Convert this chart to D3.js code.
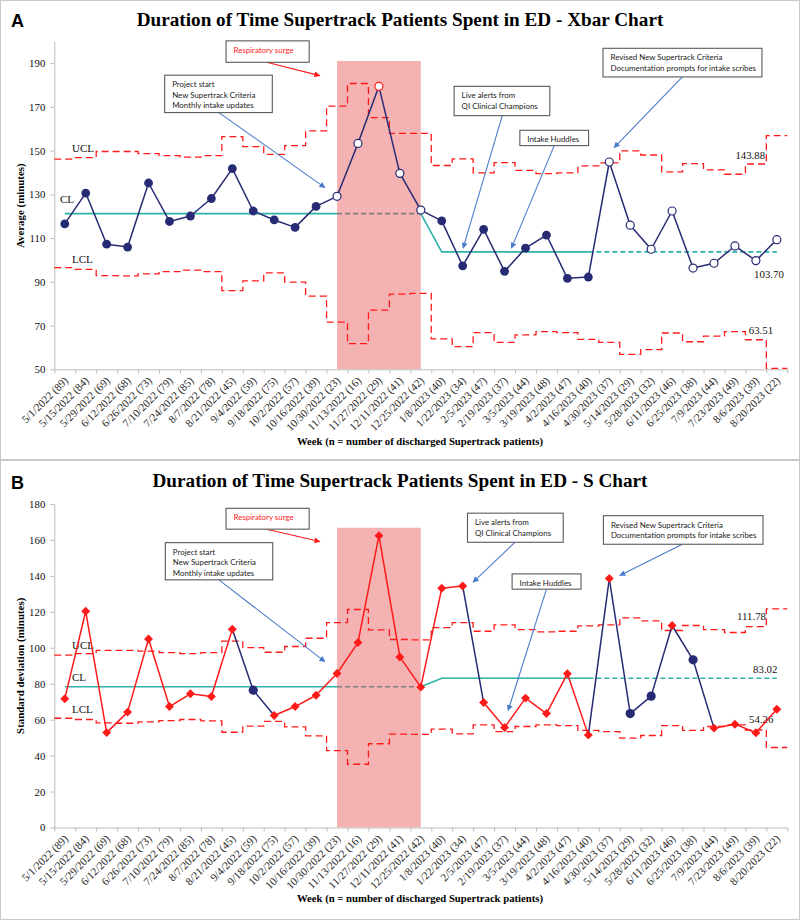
<!DOCTYPE html>
<html>
<head>
<meta charset="utf-8">
<script src="https://cdn.jsdelivr.net/npm/d3@7"></script>
<style>
body { margin: 0; background: #fff; }
svg { display: block; }
</style>
</head>
<body>
<div class="chart"></div>
<script>
// DATA ------------------------------------
const weeks = ['5/1/2022 (89)', '5/15/2022 (84)', '5/29/2022 (69)', '6/12/2022 (68)', '6/26/2022 (73)',
    '7/10/2022 (79)', '7/24/2022 (85)', '8/7/2022 (78)', '8/21/2022 (45)', '9/4/2022 (59)',
    '9/18/2022 (75)', '10/2/2022 (57)', '10/16/2022 (39)', '10/30/2022 (23)', '11/13/2022 (16)',
    '11/27/2022 (29)', '12/11/2022 (41)', '12/25/2022 (42)', '1/8/2023 (40)', '1/22/2023 (34)',
    '2/5/2023 (47)', '2/19/2023 (37)', '3/5/2023 (44)', '3/19/2023 (48)', '4/2/2023 (47)',
    '4/16/2023 (40)', '4/30/2023 (37)', '5/14/2023 (29)', '5/28/2023 (32)', '6/11/2023 (46)',
    '6/25/2023 (38)', '7/9/2023 (44)', '7/23/2023 (49)', '8/6/2023 (39)', '8/20/2023 (22)']

const xbarMean = [116.5, 130.6, 107.2, 105.9, 135.2, 117.6, 120.1, 128.1, 141.8, 122.4,
    118.3, 114.9, 124.5, 129.1, 153.3, 179.4, 139.6, 122.8, 117.9, 97.3,
    114.0, 94.8, 105.4, 111.4, 91.6, 92.2, 144.8, 115.9, 104.9, 122.4,
    96.3, 98.5, 106.4, 99.7, 109.3]
const xbarUcl = [146.1, 146.8, 149.6, 149.6, 148.6, 147.7, 147.0, 147.7, 156.4, 151.8,
    148.3, 152.3, 159.0, 170.4, 180.7, 165.1, 157.9, 157.9, 143.2, 146.2,
    139.8, 144.5, 141.0, 139.5, 139.8, 143.0, 144.4, 149.9, 148.0, 140.3,
    144.1, 141.2, 139.2, 143.88, 156.9]
const xbarLcl = [96.5, 95.7, 92.8, 92.7, 93.6, 94.7, 95.4, 94.7, 86.0, 90.4,
    94.1, 89.9, 83.5, 71.6, 61.7, 77.1, 84.4, 84.7, 63.9, 60.4,
    66.8, 62.3, 65.7, 67.2, 66.8, 63.7, 62.3, 56.8, 59.0, 66.6,
    62.6, 65.2, 67.2, 63.51, 50.4]
const xbarCl = [121.2, 103.70]
const xbarOpen = [13, 14, 15, 16, 17, 26, 27, 28, 29, 30, 31, 32, 33, 34]
const xbarRed = [15]

const sDev = [71.6, 120.3, 52.8, 64.2, 104.9, 67.3, 74.4, 72.9, 110.3, 76.4,
    62.3, 67.3, 73.6, 85.7, 102.9, 162.4, 94.9, 78.1, 133.1, 134.4,
    69.5, 55.6, 72.0, 63.4, 85.6, 51.4, 138.5, 63.4, 73.1, 112.4,
    93.3, 55.3, 57.5, 52.7, 65.8]
const sUcl = [95.9, 96.8, 98.5, 98.6, 98.1, 97.3, 96.8, 97.3, 103.7, 100.1,
    97.5, 100.7, 105.3, 114.0, 121.3, 110.0, 104.6, 104.4, 111.2, 114.0,
    109.2, 112.7, 110.1, 108.8, 109.2, 112.2, 112.7, 116.6, 115.0, 109.6,
    112.4, 110.1, 108.5, 111.78, 121.6]
const sLcl = [60.8, 60.1, 58.2, 58.0, 58.8, 59.5, 60.1, 59.3, 53.0, 56.4,
    59.0, 56.0, 51.0, 42.8, 35.2, 46.6, 51.9, 51.8, 54.7, 52.1,
    57.1, 53.4, 56.2, 57.1, 56.7, 54.0, 53.4, 49.7, 51.2, 56.7,
    54.0, 56.2, 57.1, 54.26, 44.5]
const sCl = [78.3, 83.02]
const sNavyPoints = [9, 27, 28, 30]
const sNavySegments = [9, 10, 20, 26, 27, 28, 29, 30, 31]   // index of the point a segment ends on

const xbarTicks = [50, 70, 90, 110, 130, 150, 170, 190]
const sTicks = [0, 20, 40, 60, 80, 100, 120, 140, 160, 180]

// phases (point indexes)
const surgeStart = 13, surgeEnd = 17, phase2Start = 18, phase2Frozen = 25

// CHART INIT ------------------------------
const NAVY = '#262b73', RED = '#ff1a1a', TEAL = '#2fb2a8', BLUE = '#4a7cc9'
const serif = '"Liberation Serif", "Times New Roman", serif'
const note = 'Lato, "Open Sans", sans-serif'

const svg = d3.select('.chart')
    .append('svg')
    .attr('width', 800)
    .attr('height', 920)

const defs = svg.append('defs')
;[['arrBlue', BLUE], ['arrRed', RED]].forEach(([id, c]) => {
    defs.append('marker')
        .attr('id', id)
        .attr('viewBox', '0 0 10 10')
        .attr('refX', 9).attr('refY', 5)
        .attr('markerWidth', 7).attr('markerHeight', 6)
        .attr('markerUnits', 'userSpaceOnUse')
        .attr('orient', 'auto')
        .append('path')
        .attr('d', 'M0,0 L10,5 L0,10 z')
        .attr('fill', c)
})

const x = d3.scaleBand().domain(weeks).range([54.3, 787.3])
const xe = d3.scaleLinear().domain([0, weeks.length]).range([54.3, 787.3])
const xc = i => xe(i + 0.5)

const panels = [
    {
        top: 0, h: 460, letter: 'A', letterY: 26.7, titleY: 25.7, axisTitleY: 445,
        title: 'Duration of Time Supertrack Patients Spent in ED - Xbar Chart',
        yLabel: 'Average (minutes)', yLabelY: 205.7,
        domain: [50, 200], range: [369.3, 41.3], ticks: xbarTicks, surgeTop: 191,
        values: xbarMean, ucl: xbarUcl, lcl: xbarLcl, cl: xbarCl,
        kind: 'xbar',
        limitText: [['UCL', 72, -6, 'ucl'], ['CL', 60, -10.5, 'cl'], ['LCL', 72, -6, 'lcl']],
        endText: { ucl: [-10, -4.7], cl: [8.7, 25.8], lcl: [3.4, -5.5] },
        notes: [
            { lines: ['Respiratory surge'], color: RED, box: [8.2, 200.2, 12.17, 190.4], arrow: [[10.14, 190.4], [12.68, 184.3]], marker: 'arrRed' },
            { lines: ['Project start', 'New Supertrack Criteria', 'Monthly intake updates'], box: [5.27, 184.5, 10.41, 167.4], arrow: [[7.86, 167.4], [12.92, 133.1]] },
            { lines: ['Live alerts from', 'QI Clinical Champions'], box: [19.09, 179.4, 23.66, 166.0], arrow: [[21.39, 166.0], [19.52, 105.4]] },
            { lines: ['Intake Huddles'], box: [22.23, 159.3, 25.51, 152.3], arrow: [[23.87, 152.3], [21.83, 105.4]] },
            { lines: ['Revised New Supertrack Criteria', 'Documentation prompts for intake scribes'], box: [26.2, 196.8, 33.79, 183.7], arrow: [[29.99, 183.7], [26.73, 151.4]] }
        ]
    },
    {
        top: 460, h: 460, letter: 'B', letterY: 29.3, titleY: 26.7, axisTitleY: 441.7,
        title: 'Duration of Time Supertrack Patients Spent in ED - S Chart',
        yLabel: 'Standard deviation (minutes)', yLabelY: 205.8,
        domain: [0, 180], range: [367.5, 44], ticks: sTicks, surgeTop: 166.8,
        values: sDev, ucl: sUcl, lcl: sLcl, cl: sCl,
        kind: 's',
        limitText: [['UCL', 72, -5, 'ucl'], ['CL', 72, -6, 'cl'], ['LCL', 72, -6, 'lcl']],
        endText: { ucl: [-8.3, -6.6], cl: [7.7, -5.6], lcl: [3.7, -6.7] },
        notes: [
            { lines: ['Respiratory surge'], color: RED, box: [8.2, 177.6, 12.17, 166.0], arrow: [[10.14, 166.0], [12.68, 159.1]], marker: 'arrRed' },
            { lines: ['Project start', 'New Supertrack Criteria', 'Monthly intake updates'], box: [5.3, 158.5, 10.43, 137.8], arrow: [[7.86, 137.8], [12.92, 92.3]] },
            { lines: ['Live alerts from', 'QI Clinical Champions'], box: [19.73, 174.9, 24.3, 158.7], arrow: [[21.99, 158.7], [20.0, 136.5]] },
            { lines: ['Intake Huddles'], box: [21.86, 141.1, 25.15, 132.6], arrow: [[23.5, 132.6], [21.67, 65.1]] },
            { lines: ['Revised New Supertrack Criteria', 'Documentation prompts for intake scribes'], box: [26.22, 173.5, 33.84, 157.6], arrow: [[29.99, 157.6], [27.0, 140.2]] }
        ]
    }
]

function drawPanel(p) {
    const g = svg.append('g').attr('transform', `translate(0, ${p.top})`)
    const y = d3.scaleLinear().domain(p.domain).range(p.range)
    const y0 = p.range[0]

    g.append('rect')
        .attr('x', 0.5).attr('y', 0.5)
        .attr('width', 799).attr('height', p.h - 1)
        .attr('fill', 'none').attr('stroke', '#c9c9c9')

    g.append('text')
        .attr('x', 11).attr('y', p.letterY)
        .attr('font-family', '"Liberation Sans", Arial, sans-serif')
        .attr('font-weight', 'bold').attr('font-size', 18)
        .text(p.letter)

    g.append('text')
        .attr('x', 400).attr('y', p.titleY)
        .attr('text-anchor', 'middle')
        .attr('font-family', serif).attr('font-weight', 'bold').attr('font-size', 19.2)
        .text(p.title)

    // surge shading
    g.append('rect')
        .attr('x', xc(surgeStart))
        .attr('y', y(p.surgeTop))
        .attr('width', xc(surgeEnd) - xc(surgeStart))
        .attr('height', y0 - y(p.surgeTop))
        .attr('fill', '#f5b2b2')

    // axes
    const yAxis = d3.axisLeft(y).tickValues(p.ticks).tickSize(4).tickSizeOuter(0).tickPadding(5)
    const ya = g.append('g').attr('transform', 'translate(54.3,0)').call(yAxis)
    ya.selectAll('text').attr('font-family', serif).attr('font-size', 10.8).attr('fill', '#111')

    const xAxis = d3.axisBottom(xe).tickValues(d3.range(weeks.length + 1)).tickSize(4).tickSizeOuter(0).tickFormat('')
    const xa = g.append('g').attr('transform', `translate(0,${y0})`).call(xAxis)
    ;[ya, xa].forEach(a => a.selectAll('path, line').attr('stroke', '#bdbdbd'))

    g.selectAll('.xlab')
        .data(weeks)
        .join('text')
        .attr('class', 'xlab')
        .attr('transform', d => `translate(${x(d) + x.bandwidth() / 2 + 4},${y0 + 12}) rotate(-45)`)
        .attr('text-anchor', 'end')
        .attr('font-family', serif).attr('font-size', 11).attr('fill', '#222')
        .text(d => d)

    g.append('text')
        .attr('x', 420).attr('y', p.axisTitleY)
        .attr('text-anchor', 'middle')
        .attr('font-family', serif).attr('font-weight', 'bold').attr('font-size', 10.7)
        .text('Week (n = number of discharged Supertrack patients)')

    g.append('text')
        .attr('transform', `translate(24,${p.yLabelY}) rotate(-90)`)
        .attr('text-anchor', 'middle')
        .attr('font-family', serif).attr('font-weight', 'bold').attr('font-size', 10.9)
        .text(p.yLabel)

    // control limits (step lines)
    const step = vals => d3.line()(vals.flatMap((v, i) => [[xe(i), y(v)], [xe(i + 1), y(v)]]))
    ;[p.ucl, p.lcl].forEach(vals => {
        g.append('path')
            .attr('d', step(vals))
            .attr('fill', 'none').attr('stroke', RED)
            .attr('stroke-width', 1.3).attr('stroke-dasharray', '7,4')
    })

    // centre line
    const line = d3.line().x(d => xc(d[0])).y(d => y(d[1]))
    const clParts = [
        [[[0, p.cl[0]], [surgeStart, p.cl[0]]], TEAL, null],
        [[[surgeStart, p.cl[0]], [surgeEnd, p.cl[0]]], '#7f7f7f', '5,3'],
        [[[surgeEnd, p.cl[0]], [phase2Start, p.cl[1]], [phase2Frozen, p.cl[1]]], TEAL, null],
        [[[phase2Frozen, p.cl[1]], [weeks.length - 1, p.cl[1]]], TEAL, '5,3']
    ]
    clParts.forEach(([pts, c, dash]) => {
        g.append('path')
            .attr('d', line(pts))
            .attr('fill', 'none').attr('stroke', c)
            .attr('stroke-width', 1.6)
            .attr('stroke-dasharray', dash)
    })

    // labels for limits
    const firstVal = { ucl: p.ucl[1], cl: p.cl[0], lcl: p.lcl[1] }
    p.limitText.forEach(([t, lx, dy, key]) => {
        g.append('text')
            .attr('x', lx).attr('y', y(firstVal[key]) + dy)
            .attr('font-family', serif).attr('font-size', 11).attr('fill', '#111')
            .text(t)
    })
    const last = weeks.length - 2
    const endVal = { ucl: p.ucl[last], cl: p.cl[1], lcl: p.lcl[last] }
    Object.entries(p.endText).forEach(([key, [dx, dy]]) => {
        g.append('text')
            .attr('x', xe(last) + dx).attr('y', y(endVal[key]) + dy)
            .attr('font-family', serif).attr('font-size', 10.8).attr('fill', '#111')
            .text(d3.format('.2f')(endVal[key]))
    })

    // data line
    const isS = p.kind === 's'
    const segColor = i => (!isS || sNavySegments.includes(i)) ? NAVY : RED
    d3.range(1, p.values.length).forEach(i => {
        g.append('line')
            .attr('x1', xc(i - 1)).attr('y1', y(p.values[i - 1]))
            .attr('x2', xc(i)).attr('y2', y(p.values[i]))
            .attr('stroke', segColor(i)).attr('stroke-width', 1.5)
    })

    // markers
    p.values.forEach((v, i) => {
        if (isS) {
            if (sNavyPoints.includes(i)) {
                g.append('circle').attr('cx', xc(i)).attr('cy', y(v)).attr('r', 4.6).attr('fill', NAVY)
            } else {
                g.append('path')
                    .attr('d', d3.symbol(d3.symbolSquare, 40)())
                    .attr('transform', `translate(${xc(i)},${y(v)}) rotate(45)`)
                    .attr('fill', RED)
            }
        } else if (xbarOpen.includes(i)) {
            g.append('circle').attr('cx', xc(i)).attr('cy', y(v)).attr('r', 4)
                .attr('fill', '#fff')
                .attr('stroke', xbarRed.includes(i) ? RED : NAVY).attr('stroke-width', 1.2)
        } else {
            g.append('circle').attr('cx', xc(i)).attr('cy', y(v)).attr('r', 4.4).attr('fill', NAVY)
        }
    })

    // annotations
    p.notes.forEach(n => {
        const [bx0, by0, bx1, by1] = n.box
        g.append('line')
            .attr('x1', xe(n.arrow[0][0])).attr('y1', y(n.arrow[0][1]))
            .attr('x2', xe(n.arrow[1][0])).attr('y2', y(n.arrow[1][1]))
            .attr('stroke', n.color || BLUE).attr('stroke-width', 1.1)
            .attr('marker-end', `url(#${n.marker || 'arrBlue'})`)
        g.append('rect')
            .attr('x', xe(bx0)).attr('y', y(by0))
            .attr('width', xe(bx1) - xe(bx0)).attr('height', y(by1) - y(by0))
            .attr('fill', '#fff').attr('stroke', '#5a5a5a').attr('stroke-width', 1.1)
        n.lines.forEach((t, k) => {
            g.append('text')
                .attr('x', xe(bx0) + 7.5).attr('y', y(by0) + 12 + k * 10.6)
                .attr('font-family', note).attr('font-size', 7.9)
                .attr('fill', n.color || '#222')
                .text(t)
        })
    })
}

panels.forEach(drawPanel)
</script>
</body>
</html>
